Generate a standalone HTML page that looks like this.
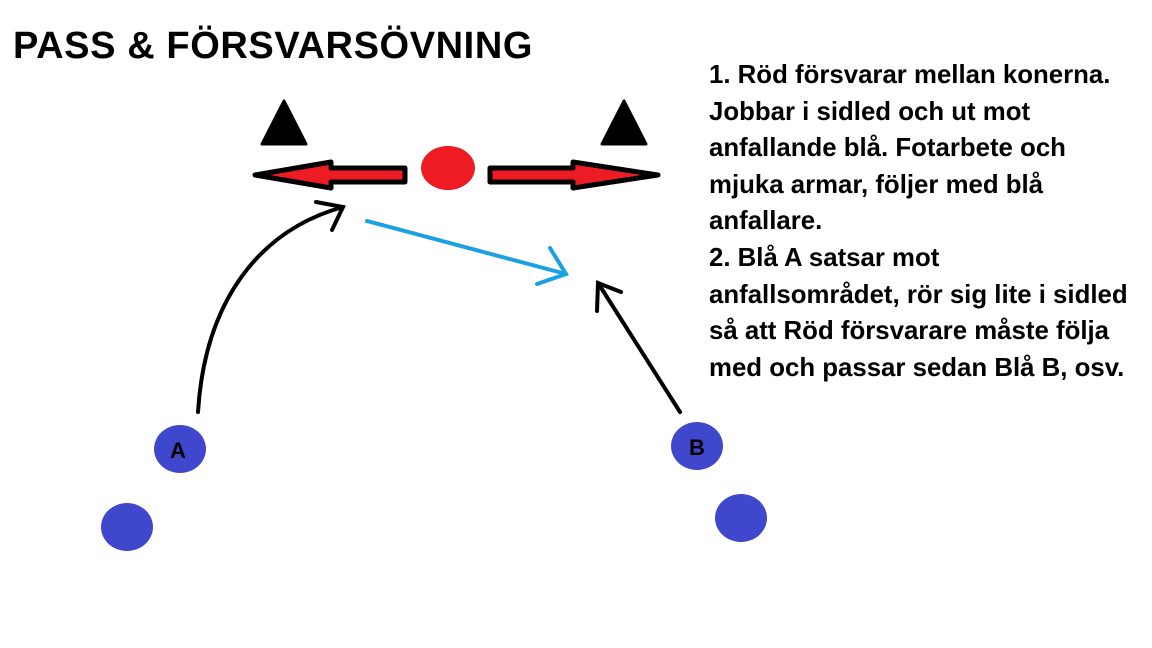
<!DOCTYPE html>
<html><head><meta charset="utf-8"><style>
body{margin:0;width:1152px;height:648px;background:#fff;position:relative;overflow:hidden;font-family:"Liberation Sans",sans-serif;font-weight:bold;color:#000}
.t{position:absolute;left:13px;top:25px;font-size:38px;letter-spacing:0.6px}
.d{position:absolute;left:709px;top:57px;font-size:25.8px;line-height:36.6px;white-space:pre}
.l{position:absolute;font-size:22px}
</style></head><body>
<svg width="1152" height="648" style="position:absolute;left:0;top:0">
<polygon points="284,101 262,144 306,144" fill="#000" stroke="#000" stroke-width="3" stroke-linejoin="round"/>
<polygon points="624,101 602,144 646,144" fill="#000" stroke="#000" stroke-width="3" stroke-linejoin="round"/>
<polygon points="255,175 331,162 331,168 405,168 405,182 331,182 331,188" fill="#ed1c24" stroke="#000" stroke-width="5" stroke-linejoin="round"/>
<polygon points="658,175 573,162 573,168 490,168 490,182 573,182 573,188" fill="#ed1c24" stroke="#000" stroke-width="5" stroke-linejoin="round"/>
<ellipse cx="448" cy="168" rx="27" ry="22" fill="#ed1c24"/>
<g fill="none" stroke="#000" stroke-width="4" stroke-linecap="round">
<path d="M198,412 C205,300 260,230 343,207"/>
<path d="M316,202 L343,207 L332,230"/>
<path d="M680,412 L598,283"/>
<path d="M621,292 L598,283 L597,311"/>
</g>
<g fill="none" stroke="#1ba1e2" stroke-width="4" stroke-linecap="round">
<path d="M367,221 L566,274"/>
<path d="M550,248 L566,274 L537,284"/>
</g>
<g fill="#3f48cc">
<ellipse cx="180" cy="449" rx="26" ry="24"/>
<ellipse cx="127" cy="527" rx="26" ry="24"/>
<ellipse cx="697" cy="446" rx="26" ry="24"/>
<ellipse cx="741" cy="518" rx="26" ry="24"/>
</g>
</svg>
<div class="t">PASS &amp; FÖRSVARSÖVNING</div>
<div class="l" style="left:170px;top:438px">A</div>
<div class="l" style="left:689px;top:435px">B</div>
<div class="d">1. Röd försvarar mellan konerna.
Jobbar i sidled och ut mot
anfallande blå. Fotarbete och
mjuka armar, följer med blå
anfallare.
2. Blå A satsar mot
anfallsområdet, rör sig lite i sidled
så att Röd försvarare måste följa
med och passar sedan Blå B, osv.</div>
</body></html>
